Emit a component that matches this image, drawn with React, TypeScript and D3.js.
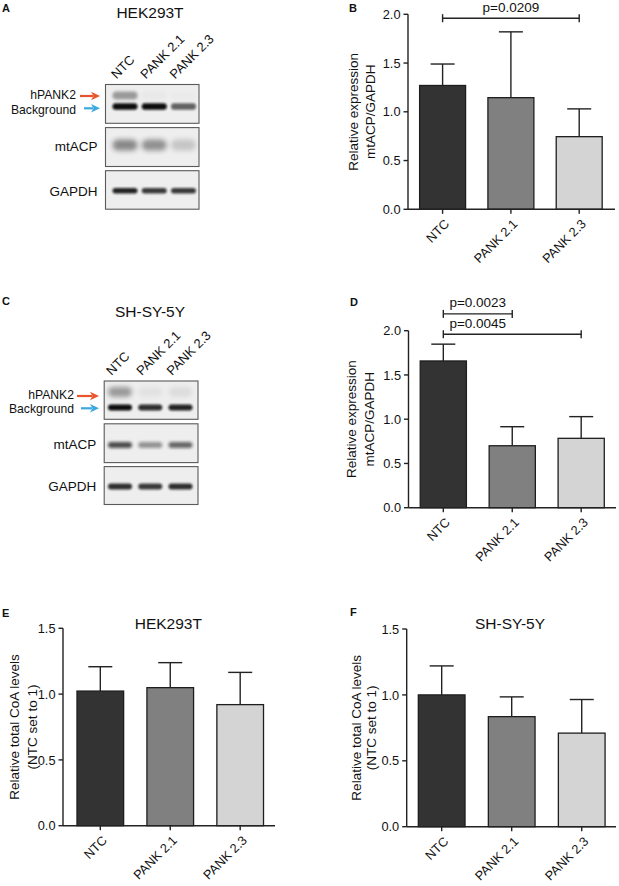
import React from "react";
import * as d3 from "d3";

const FONT = "'Liberation Sans', Arial, Helvetica, sans-serif";

// ---------- data ----------
const categories = ["NTC", "PANK 2.1", "PANK 2.3"];
const barColors = ["#333333", "#808080", "#d4d4d4"];

// Panel B: HEK293T mtACP/GAPDH
const hekMtacpMean = [1.27, 1.145, 0.745];
const hekMtacpSd = [0.22, 0.675, 0.285];
// Panel D: SH-SY-5Y mtACP/GAPDH
const shMtacpMean = [1.658, 0.7, 0.784];
const shMtacpSd = [0.19, 0.215, 0.245];
// Panel E: HEK293T total CoA
const hekCoaMean = [1.023, 1.049, 0.92];
const hekCoaSd = [0.185, 0.19, 0.245];
// Panel F: SH-SY-5Y total CoA
const shCoaMean = [1.0, 0.835, 0.71];
const shCoaSd = [0.22, 0.15, 0.255];

const ticksExpr = [0, 0.5, 1.0, 1.5, 2.0];
const ticksCoa = [0, 0.5, 1.0, 1.5];

const sigB = [{ from: "NTC", to: "PANK 2.3", level: 1.96, label: "p=0.0209", mid: ["NTC", "PANK 2.3"] }];
const sigD = [
  { from: "NTC", to: "PANK 2.1", level: 2.19, label: "p=0.0023", mid: ["NTC", "PANK 2.1"] },
  { from: "NTC", to: "PANK 2.3", level: 1.96, label: "p=0.0045", mid: ["NTC", "PANK 2.1"] },
];

// Western blot band intensities (0..1), per lane
const hekPank2Band = [0.55, 0.03, 0.02];
const hekBackgroundBand = [1.0, 1.0, 0.62];
const hekMtacpBand = [0.5, 0.46, 0.2];
const hekGapdhBand = [0.9, 0.8, 0.8];
const shPank2Band = [0.5, 0.07, 0.1];
const shBackgroundBand = [1.0, 0.85, 0.9];
const shMtacpBand = [0.72, 0.4, 0.6];
const shGapdhBand = [0.85, 0.8, 0.85];

// ---------- components ----------
type Sig = { from: string; to: string; level: number; label: string; mid: string[] };

type BarPanelProps = {
  means: number[];
  sds: number[];
  yMax: number;
  ticks: number[];
  xRange: [number, number];
  axisEnd: number;
  pi: number;
  po: number;
  yTop: number;
  yBottom: number;
  yLabel: string[];
  yLabelX: number[];
  sigs?: Sig[];
  title?: string;
  titleX?: number;
  titleY?: number;
};

function BarPanel(p: BarPanelProps) {
  const x = d3.scaleBand<string>().domain(categories).range(p.xRange).paddingInner(p.pi).paddingOuter(p.po);
  const y = d3.scaleLinear().domain([0, p.yMax]).range([p.yBottom, p.yTop]);
  const bw = x.bandwidth();
  const ax = p.xRange[0];
  const cx = (c: string) => (x(c) as number) + bw / 2;
  const yMid = (p.yTop + p.yBottom) / 2;
  return (
    <g fontFamily={FONT}>
      {categories.map((c, i) => (
        <g key={c}>
          <line x1={cx(c)} x2={cx(c)} y1={y(p.means[i])} y2={y(p.means[i] + p.sds[i])} stroke="#222" strokeWidth={1.4} />
          <line x1={cx(c) - 12} x2={cx(c) + 12} y1={y(p.means[i] + p.sds[i])} y2={y(p.means[i] + p.sds[i])} stroke="#222" strokeWidth={1.4} />
          <rect x={x(c)} y={y(p.means[i])} width={bw} height={y(0) - y(p.means[i])} fill={barColors[i]} stroke="#1e1e1e" strokeWidth={1.3} />
        </g>
      ))}
      <line x1={ax} x2={ax} y1={y(p.yMax)} y2={y(0)} stroke="#222" strokeWidth={1.4} />
      <line x1={ax} x2={p.axisEnd} y1={y(0)} y2={y(0)} stroke="#222" strokeWidth={1.4} />
      {p.ticks.map((t) => (
        <g key={t}>
          <line x1={ax - 4.5} x2={ax} y1={y(t)} y2={y(t)} stroke="#222" strokeWidth={1.4} />
          <text x={ax - 7.5} y={y(t)} dy="0.36em" textAnchor="end" fontSize={12.8} fill="#111">
            {d3.format(".1f")(t)}
          </text>
        </g>
      ))}
      {categories.map((c) => (
        <g key={"xt" + c}>
          <line x1={cx(c)} x2={cx(c)} y1={y(0)} y2={y(0) + 4.5} stroke="#222" strokeWidth={1.4} />
          <text transform={`translate(${cx(c) + 7.5},${y(0) + 15.5}) rotate(-45)`} textAnchor="end" fontSize={12.8} fill="#111">
            {c}
          </text>
        </g>
      ))}
      {p.yLabel.map((l, i) => (
        <text key={l} transform={`translate(${p.yLabelX[i]},${yMid}) rotate(-90)`} textAnchor="middle" fontSize={13.5} fill="#111">
          {l}
        </text>
      ))}
      {(p.sigs || []).map((s) => {
        const x1 = cx(s.from);
        const x2 = cx(s.to);
        const yy = y(s.level);
        const tx = (cx(s.mid[0]) + cx(s.mid[1])) / 2;
        return (
          <g key={s.label}>
            <line x1={x1} x2={x2} y1={yy} y2={yy} stroke="#222" strokeWidth={1.4} />
            <line x1={x1} x2={x1} y1={yy - 4} y2={yy + 4} stroke="#222" strokeWidth={1.4} />
            <line x1={x2} x2={x2} y1={yy - 4} y2={yy + 4} stroke="#222" strokeWidth={1.4} />
            <text x={tx} y={yy - 6.5} textAnchor="middle" fontSize={13.5} fill="#111">
              {s.label}
            </text>
          </g>
        );
      })}
      {p.title && (
        <text x={p.titleX} y={p.titleY} textAnchor="middle" fontSize={15.5} fill="#111">
          {p.title}
        </text>
      )}
    </g>
  );
}

type BandSpec = { offset: number; height: number; values: number[]; blur: number; color: string };
type BoxSpec = { y0: number; y1: number; label: string; labelY: number; bands: BandSpec[] };

function Blot(props: {
  id: string;
  x0: number;
  x1: number;
  laneRange: [number, number];
  laneWidth: number;
  boxes: BoxSpec[];
  title: string;
  titleY: number;
  laneLabelY: number;
  pankY: number;
  bgY: number;
  pankLabelBase: number;
  bgLabelBase: number;
  labelRight: number;
  arrowX0: number;
  arrowX1: number;
}) {
  const lane = d3.scalePoint<string>().domain(categories).range(props.laneRange);
  const midX = 150;
  return (
    <g fontFamily={FONT}>
      <defs>
        {[1.1, 1.6, 2.4].map((b) => (
          <filter key={b} id={`${props.id}-blur-${String(b).replace(".", "_")}`} x="-50%" y="-100%" width="200%" height="300%">
            <feGaussianBlur stdDeviation={b} />
          </filter>
        ))}
        <clipPath id={`${props.id}-clip`}>
          {props.boxes.map((bx, i) => (
            <rect key={i} x={props.x0} y={bx.y0} width={props.x1 - props.x0} height={bx.y1 - bx.y0} />
          ))}
        </clipPath>
      </defs>
      <text x={midX} y={props.titleY} textAnchor="middle" fontSize={15.5} fill="#111">
        {props.title}
      </text>
      {categories.map((c) => (
        <text key={c} transform={`translate(${(lane(c) as number) - 8.5},${props.laneLabelY}) rotate(-45)`} fontSize={13} fill="#111">
          {c}
        </text>
      ))}
      {props.boxes.map((bx, i) => (
        <g key={i}>
          <rect x={props.x0} y={bx.y0} width={props.x1 - props.x0} height={bx.y1 - bx.y0} fill="#eeeeee" />
          <g clipPath={`url(#${props.id}-clip)`}>
            {bx.bands.map((bd, j) =>
              categories.map((c, k) => (
                <rect
                  key={j + "-" + k}
                  x={(lane(c) as number) - props.laneWidth / 2}
                  y={bx.y0 + bd.offset - bd.height / 2}
                  width={props.laneWidth}
                  height={bd.height}
                  rx={bd.height / 2}
                  fill={bd.color}
                  opacity={bd.values[k]}
                  filter={`url(#${props.id}-blur-${String(bd.blur).replace(".", "_")})`}
                />
              ))
            )}
          </g>
          <rect x={props.x0} y={bx.y0} width={props.x1 - props.x0} height={bx.y1 - bx.y0} fill="none" stroke="#5a5a5a" strokeWidth={1.1} />
          {bx.label && (
            <text x={props.x0 - 8} y={bx.labelY} textAnchor="end" fontSize={13.5} fill="#111">
              {bx.label}
            </text>
          )}
        </g>
      ))}
      <text x={props.labelRight} y={props.pankLabelBase} textAnchor="end" fontSize={12.2} fill="#111">
        hPANK2
      </text>
      <text x={props.labelRight} y={props.bgLabelBase} textAnchor="end" fontSize={12.2} fill="#111">
        Background
      </text>
      <Arrow x0={props.arrowX0} x1={props.arrowX1} y={props.pankY} color="#e8552d" />
      <Arrow x0={props.arrowX0 + 4} x1={props.arrowX1} y={props.bgY} color="#3ba8e0" />
    </g>
  );
}

function Arrow({ x0, x1, y, color }: { x0: number; x1: number; y: number; color: string }) {
  const hl = 9;
  return (
    <g>
      <line x1={x0} x2={x1 - hl + 2} y1={y} y2={y} stroke={color} strokeWidth={2.2} />
      <path d={`M${x1},${y} L${x1 - hl},${y - 4.2} L${x1 - hl + 2.5},${y} L${x1 - hl},${y + 4.2} Z`} fill={color} />
    </g>
  );
}

export default function App() {
  return (
    <svg width={619} height={886} style={{ position: "absolute", left: 0, top: 0, background: "#fff" }}>
      {/* panel letters */}
      <g fontFamily={FONT} fontWeight="bold" fontSize={11} fill="#111">
        <text x={2} y={11.7}>A</text>
        <text x={349} y={11.7}>B</text>
        <text x={2} y={305}>C</text>
        <text x={350} y={306}>D</text>
        <text x={2} y={617}>E</text>
        <text x={350} y={616}>F</text>
      </g>

      <Blot
        id="hek"
        x0={105.5}
        x1={199}
        laneRange={[125, 183.5]}
        laneWidth={25}
        title="HEK293T"
        titleY={18.3}
        laneLabelY={79.5}
        pankY={96}
        bgY={108.3}
        pankLabelBase={99.3}
        bgLabelBase={113.6}
        labelRight={76}
        arrowX0={80}
        arrowX1={100}
        boxes={[
          {
            y0: 84.5, y1: 123.3, label: "", labelY: 0,
            bands: [
              { offset: 11, height: 8, values: hekPank2Band, blur: 1.6, color: "#555" },
              { offset: 22, height: 6.5, values: hekBackgroundBand, blur: 1.1, color: "#0a0a0a" },
            ],
          },
          {
            y0: 127.6, y1: 166.5, label: "mtACP", labelY: 150.5,
            bands: [{ offset: 17.5, height: 11, values: hekMtacpBand, blur: 2.4, color: "#222" }],
          },
          {
            y0: 170.7, y1: 209.2, label: "GAPDH", labelY: 196,
            bands: [{ offset: 20, height: 5.5, values: hekGapdhBand, blur: 1.1, color: "#111" }],
          },
        ]}
      />

      <Blot
        id="sh"
        x0={104.2}
        x1={198}
        laneRange={[120, 180.5]}
        laneWidth={24}
        title="SH-SY-5Y"
        titleY={317.3}
        laneLabelY={376}
        pankY={396}
        bgY={408.3}
        pankLabelBase={398.8}
        bgLabelBase={413.2}
        labelRight={74}
        arrowX0={77}
        arrowX1={99}
        boxes={[
          {
            y0: 381, y1: 419.3, label: "", labelY: 0,
            bands: [
              { offset: 11, height: 10, values: shPank2Band, blur: 2.4, color: "#444" },
              { offset: 26.5, height: 6, values: shBackgroundBand, blur: 1.1, color: "#0a0a0a" },
            ],
          },
          {
            y0: 423.8, y1: 462.6, label: "mtACP", labelY: 449,
            bands: [{ offset: 21.3, height: 6, values: shMtacpBand, blur: 1.6, color: "#111" }],
          },
          {
            y0: 466.6, y1: 504.5, label: "GAPDH", labelY: 490.7,
            bands: [{ offset: 20, height: 6, values: shGapdhBand, blur: 1.1, color: "#111" }],
          },
        ]}
      />

      <BarPanel
        means={hekMtacpMean}
        sds={hekMtacpSd}
        yMax={2}
        ticks={ticksExpr}
        xRange={[408, 613.8]}
        axisEnd={615}
        pi={0.327}
        po={0.17}
        yTop={14.3}
        yBottom={209.3}
        yLabel={["Relative expression", "mtACP/GAPDH"]}
        yLabelX={[357.5, 375]}
        sigs={sigB}
      />

      <BarPanel
        means={shMtacpMean}
        sds={shMtacpSd}
        yMax={2}
        ticks={ticksExpr}
        xRange={[408.5, 616]}
        axisEnd={616}
        pi={0.33}
        po={0.17}
        yTop={330.7}
        yBottom={507.7}
        yLabel={["Relative expression", "mtACP/GAPDH"]}
        yLabelX={[356, 374]}
        sigs={sigD}
      />

      <BarPanel
        means={hekCoaMean}
        sds={hekCoaSd}
        yMax={1.5}
        ticks={ticksCoa}
        xRange={[63, 277.5]}
        axisEnd={275}
        pi={0.333}
        po={0.2}
        yTop={628.3}
        yBottom={825.7}
        yLabel={["Relative total CoA levels", "(NTC set to 1)"]}
        yLabelX={[19, 36.5]}
        title="HEK293T"
        titleX={168.3}
        titleY={629.3}
      />

      <BarPanel
        means={shCoaMean}
        sds={shCoaSd}
        yMax={1.5}
        ticks={ticksCoa}
        xRange={[406.7, 616.7]}
        axisEnd={616}
        pi={0.333}
        po={0.166}
        yTop={629}
        yBottom={826.7}
        yLabel={["Relative total CoA levels", "(NTC set to 1)"]}
        yLabelX={[360.5, 376]}
        title="SH-SY-5Y"
        titleX={510}
        titleY={629.3}
      />
    </svg>
  );
}
